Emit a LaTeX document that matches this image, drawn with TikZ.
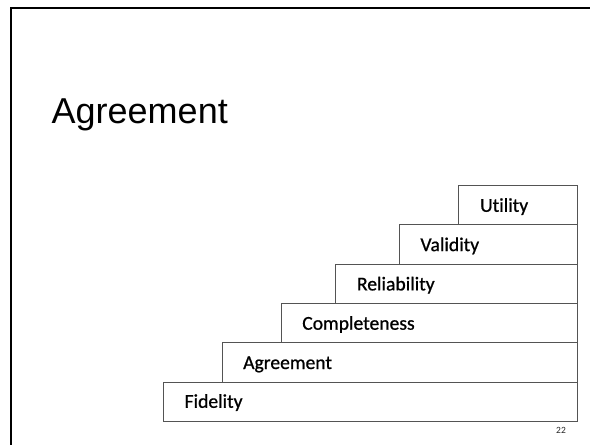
\documentclass[tikz,border=0pt]{standalone}
\usepackage{fontspec}
\setmainfont{Carlito}[RawFeature=-liga]
\newfontfamily\boxfont{Carlito}[RawFeature=-liga,FakeBold=0.8]
\newfontfamily\titlefont{Liberation Sans}
\definecolor{boxline}{rgb}{0.33,0.33,0.33}
\begin{document}
\begin{tikzpicture}[x=1pt,y=-1pt,
  stepbox/.style={draw=boxline,line width=0.9pt,rectangle,anchor=north west,inner sep=0pt,minimum height=39.3pt},
  steplabel/.style={anchor=base west,inner sep=0pt,font=\boxfont\fontsize{19.6}{22}\selectfont}]
\useasboundingbox (0,0) rectangle (590,445);
\fill[white] (0,0) rectangle (590,445);
% frame
\draw[line width=2.3pt,black] (11,445) -- (11,7.9) -- (590,7.9);
% title
\node[anchor=base west,inner sep=0pt,font=\titlefont\fontsize{36}{40}\selectfont] (title) at (51.5,123.3) {Agreement};
% steps
\node[stepbox,minimum width=414pt] (fid) at (162.6,381.5) {};
\node[stepbox,minimum width=354.6pt] (agr) at (222,342.2) {};
\node[stepbox,minimum width=295.5pt] (com) at (281.1,302.9) {};
\node[stepbox,minimum width=241.3pt] (rel) at (335.3,263.6) {};
\node[stepbox,minimum width=177.3pt] (val) at (399.3,224.3) {};
\node[stepbox,minimum width=118.2pt] (uti) at (458.4,185) {};
\node[steplabel] (tfid) at ([xshift=21.8pt,yshift=-26.3pt]fid.north west) {Fidelity};
\node[steplabel] (tagr) at ([xshift=21pt,yshift=-26.8pt]agr.north west) {Agreement};
\node[steplabel] (tcom) at ([xshift=21pt,yshift=-26.8pt]com.north west) {Completeness};
\node[steplabel] (trel) at ([xshift=21.5pt,yshift=-26.8pt]rel.north west) {Reliability};
\node[steplabel] (tval) at ([xshift=21pt,yshift=-26.8pt]val.north west) {Validity};
\node[steplabel] (tuti) at ([xshift=21.5pt,yshift=-26.8pt]uti.north west) {Utility};
% page number
\node[anchor=base,inner sep=0pt,font=\fontsize{9.5}{11}\selectfont,text=black!85] (pnum) at (561,433) {22};
\end{tikzpicture}
\end{document}
